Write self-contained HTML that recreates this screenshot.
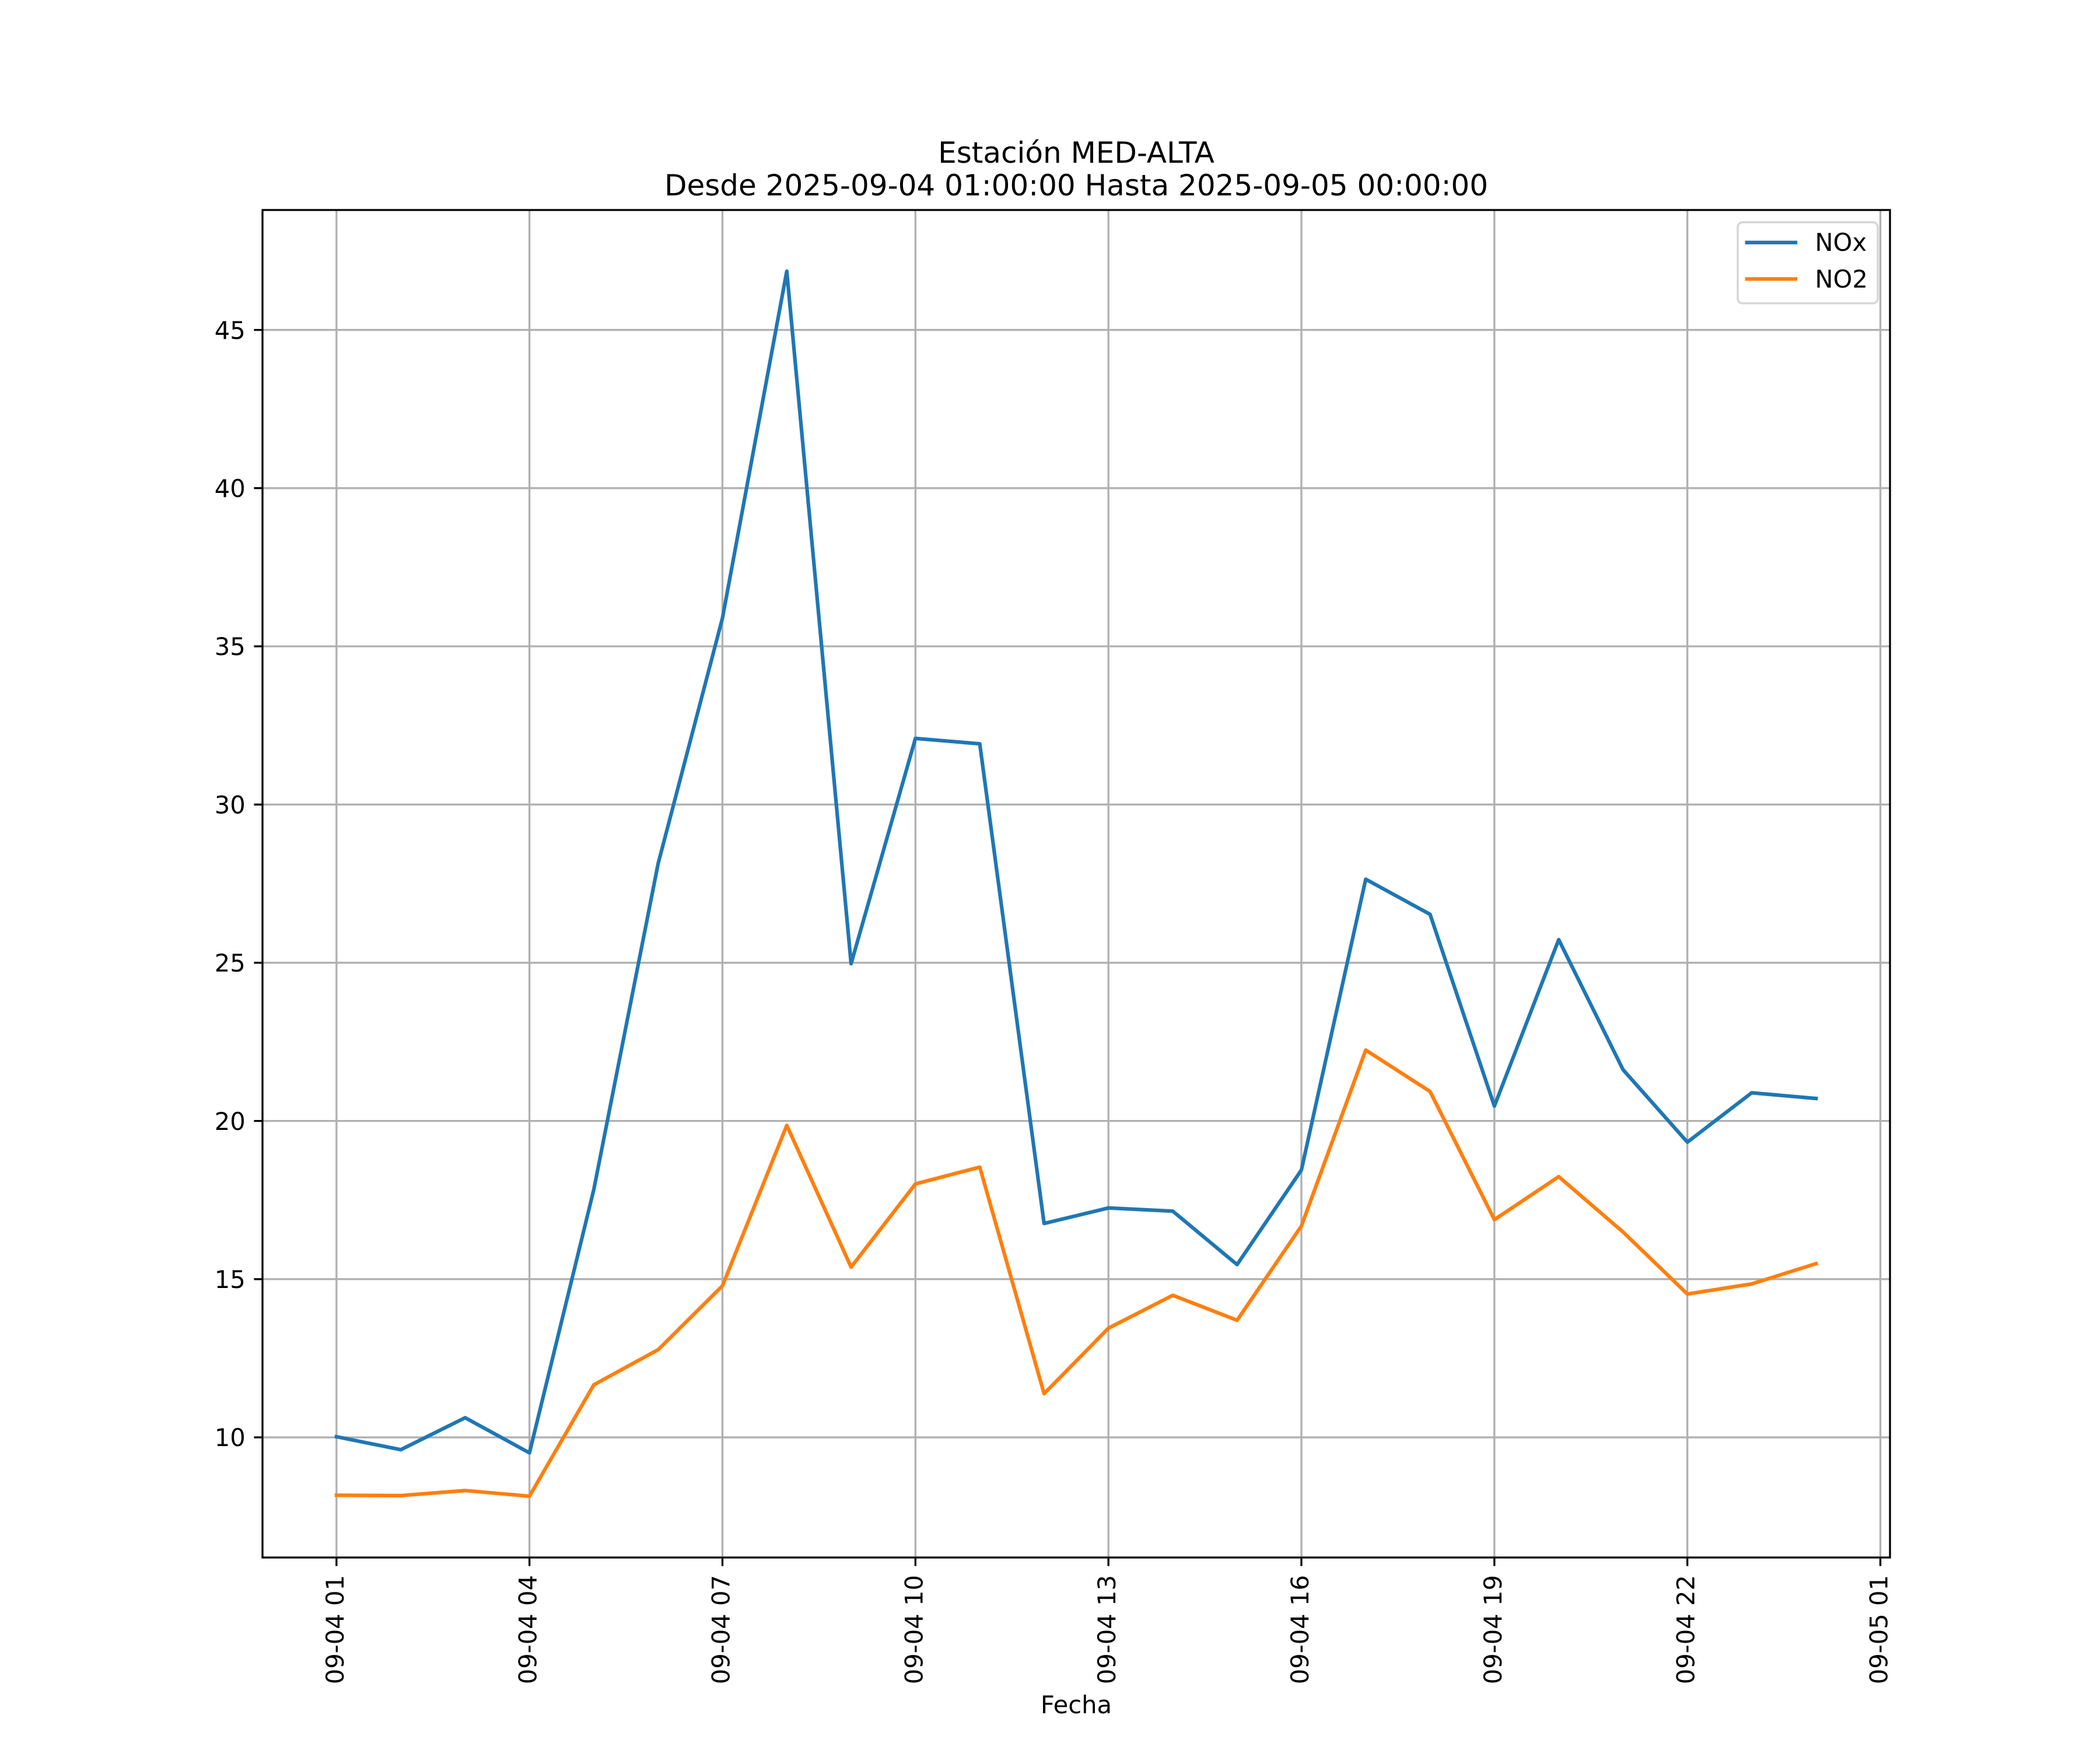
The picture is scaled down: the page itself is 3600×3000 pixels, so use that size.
<!DOCTYPE html>
<html>
<head>
<meta charset="utf-8">
<style>
html,body{margin:0;padding:0;background:#fff;}
svg{display:block;}
text{font-family:"DejaVu Sans","Liberation Sans",sans-serif;fill:#000;}
</style>
</head>
<body>
<svg width="3600" height="3000" viewBox="0 0 3600 3000" xmlns="http://www.w3.org/2000/svg">
<rect x="0" y="0" width="3600" height="3000" fill="#fff"/>
<rect x="450" y="360" width="2790" height="2310" fill="#fff"/>

<!-- grid -->
<g stroke="#b0b0b0" stroke-width="3.33" fill="none">
<line x1="576.82" y1="360" x2="576.82" y2="2670"/>
<line x1="907.65" y1="360" x2="907.65" y2="2670"/>
<line x1="1238.48" y1="360" x2="1238.48" y2="2670"/>
<line x1="1569.31" y1="360" x2="1569.31" y2="2670"/>
<line x1="1900.14" y1="360" x2="1900.14" y2="2670"/>
<line x1="2230.97" y1="360" x2="2230.97" y2="2670"/>
<line x1="2561.80" y1="360" x2="2561.80" y2="2670"/>
<line x1="2892.63" y1="360" x2="2892.63" y2="2670"/>
<line x1="3223.46" y1="360" x2="3223.46" y2="2670"/>
<line x1="450" y1="2464.05" x2="3240" y2="2464.05"/>
<line x1="450" y1="2192.84" x2="3240" y2="2192.84"/>
<line x1="450" y1="1921.63" x2="3240" y2="1921.63"/>
<line x1="450" y1="1650.42" x2="3240" y2="1650.42"/>
<line x1="450" y1="1379.21" x2="3240" y2="1379.21"/>
<line x1="450" y1="1108.00" x2="3240" y2="1108.00"/>
<line x1="450" y1="836.79" x2="3240" y2="836.79"/>
<line x1="450" y1="565.58" x2="3240" y2="565.58"/>
</g>

<!-- series -->
<polyline fill="none" stroke="#1f77b4" stroke-width="6.25" stroke-linejoin="round" stroke-linecap="square"
points="576.82,2462.96 687.09,2485.20 797.37,2430.42 907.65,2490.63 1017.93,2039.34 1128.20,1480.64 1238.48,1059.72 1348.76,464.96 1459.03,1652.05 1569.31,1265.84 1679.59,1275.07 1789.86,2097.37 1900.14,2070.80 2010.42,2076.22 2120.69,2167.89 2230.97,2005.71 2341.25,1507.22 2451.52,1567.43 2561.80,1896.14 2672.08,1610.82 2782.35,1833.76 2892.63,1957.97 3002.91,1873.35 3113.18,1883.12"/>
<polyline fill="none" stroke="#ff7f0e" stroke-width="6.25" stroke-linejoin="round" stroke-linecap="square"
points="576.82,2563.31 687.09,2563.86 797.37,2555.18 907.65,2564.94 1017.93,2374.01 1128.20,2313.80 1238.48,2204.23 1348.76,1929.22 1459.03,2172.23 1569.31,2029.57 1679.59,2000.82 1789.86,2389.20 1900.14,2276.92 2010.42,2220.50 2120.69,2263.35 2230.97,2101.71 2341.25,1800.13 2451.52,1871.18 2561.80,2090.87 2672.08,2017.10 2782.35,2112.02 2892.63,2218.33 3002.91,2200.98 3113.18,2166.26"/>

<!-- spines -->
<rect x="450" y="360" width="2790" height="2310" fill="none" stroke="#000" stroke-width="3.33" stroke-linejoin="miter"/>

<!-- ticks -->
<g stroke="#000" stroke-width="3.33">
<line x1="576.82" y1="2670" x2="576.82" y2="2684.6"/>
<line x1="907.65" y1="2670" x2="907.65" y2="2684.6"/>
<line x1="1238.48" y1="2670" x2="1238.48" y2="2684.6"/>
<line x1="1569.31" y1="2670" x2="1569.31" y2="2684.6"/>
<line x1="1900.14" y1="2670" x2="1900.14" y2="2684.6"/>
<line x1="2230.97" y1="2670" x2="2230.97" y2="2684.6"/>
<line x1="2561.80" y1="2670" x2="2561.80" y2="2684.6"/>
<line x1="2892.63" y1="2670" x2="2892.63" y2="2684.6"/>
<line x1="3223.46" y1="2670" x2="3223.46" y2="2684.6"/>
<line x1="450" y1="2464.05" x2="435.4" y2="2464.05"/>
<line x1="450" y1="2192.84" x2="435.4" y2="2192.84"/>
<line x1="450" y1="1921.63" x2="435.4" y2="1921.63"/>
<line x1="450" y1="1650.42" x2="435.4" y2="1650.42"/>
<line x1="450" y1="1379.21" x2="435.4" y2="1379.21"/>
<line x1="450" y1="1108.00" x2="435.4" y2="1108.00"/>
<line x1="450" y1="836.79" x2="435.4" y2="836.79"/>
<line x1="450" y1="565.58" x2="435.4" y2="565.58"/>
</g>

<!-- y tick labels -->
<g font-size="41.67" text-anchor="end">
<text x="420.8" y="2479.2">10</text>
<text x="420.8" y="2208.0">15</text>
<text x="420.8" y="1936.8">20</text>
<text x="420.8" y="1665.6">25</text>
<text x="420.8" y="1394.4">30</text>
<text x="420.8" y="1123.2">35</text>
<text x="420.8" y="852.0">40</text>
<text x="420.8" y="580.8">45</text>
</g>

<!-- x tick labels -->
<g font-size="41.67" text-anchor="end">
<text transform="translate(588.8,2700) rotate(-90)">09-04 01</text>
<text transform="translate(919.6,2700) rotate(-90)">09-04 04</text>
<text transform="translate(1250.5,2700) rotate(-90)">09-04 07</text>
<text transform="translate(1581.3,2700) rotate(-90)">09-04 10</text>
<text transform="translate(1912.1,2700) rotate(-90)">09-04 13</text>
<text transform="translate(2243.0,2700) rotate(-90)">09-04 16</text>
<text transform="translate(2573.8,2700) rotate(-90)">09-04 19</text>
<text transform="translate(2904.6,2700) rotate(-90)">09-04 22</text>
<text transform="translate(3235.5,2700) rotate(-90)">09-05 01</text>
</g>

<!-- axis label -->
<text x="1845" y="2937" font-size="41.67" text-anchor="middle">Fecha</text>

<!-- title -->
<text x="1845" y="279" font-size="50" text-anchor="middle">Estación MED-ALTA</text>
<text x="1845" y="335" font-size="50" text-anchor="middle">Desde 2025-09-04 01:00:00 Hasta 2025-09-05 00:00:00</text>

<!-- legend -->
<rect x="2979" y="381" width="240" height="139" rx="8.3" ry="8.3" fill="#fff" fill-opacity="0.8" stroke="#d6d6d6" stroke-width="3.5"/>
<line x1="2994.7" y1="415.7" x2="3078" y2="415.7" stroke="#1f77b4" stroke-width="6.25" stroke-linecap="square"/>
<line x1="2994.7" y1="478.3" x2="3078" y2="478.3" stroke="#ff7f0e" stroke-width="6.25" stroke-linecap="square"/>
<text x="3111.4" y="430" font-size="41.67">NOx</text>
<text x="3111.4" y="493" font-size="41.67">NO2</text>
</svg>
</body>
</html>
